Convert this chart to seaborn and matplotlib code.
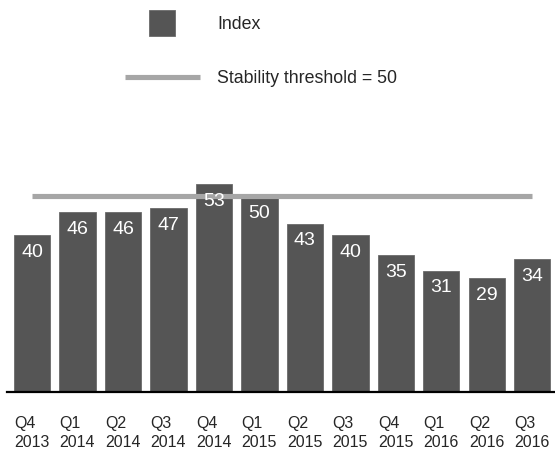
import matplotlib
matplotlib.use("Agg")
import matplotlib.pyplot as plt
from matplotlib.lines import Line2D
import seaborn as sns
import pandas as pd

quarters = ["Q4\n2013", "Q1\n2014", "Q2\n2014", "Q3\n2014", "Q4\n2014", "Q1\n2015",
            "Q2\n2015", "Q3\n2015", "Q4\n2015", "Q1\n2016", "Q2\n2016", "Q3\n2016"]
index_values = [40, 46, 46, 47, 53, 50, 43, 40, 35, 31, 29, 34]
threshold = 50

BAR = "#555555"
LINE = "#a6a6a6"

sns.set_theme(style="white")
plt.rcParams["font.family"] = ["Liberation Sans", "DejaVu Sans"]

W, H = 555, 453
fig = plt.figure(figsize=(W / 100, H / 100), dpi=100)
# axes placed in pixel terms: baseline at y=392, spanning x 7..555
ax_left, ax_right = 7, 555
base_y, top_y = 392, 157
ax = fig.add_axes([ax_left / W, (H - base_y) / H, (ax_right - ax_left) / W, (base_y - top_y) / H])

df = pd.DataFrame({"quarter": quarters, "index": index_values})
sns.barplot(data=df, x="quarter", y="index", color=BAR, saturation=1, width=0.8,
            edgecolor="#6a6a6a", linewidth=0.6, ax=ax, zorder=2)

ax.plot([0, len(quarters) - 1], [threshold, threshold], color=LINE, lw=3.7,
        solid_capstyle="butt", zorder=3)

for i, v in enumerate(index_values):
    ax.annotate(str(v), (i, v), xytext=(0, -12.5), textcoords="offset points",
                ha="center", va="center", color="white", fontsize=14, zorder=4)

ax.set_xlim(-0.55, len(quarters) - 0.5)
ax.set_ylim(0, 60)
ax.set_xlabel("")
ax.set_ylabel("")
ax.set_yticks([])
for s in ["top", "right", "left"]:
    ax.spines[s].set_visible(False)
ax.spines["bottom"].set_color("black")
ax.spines["bottom"].set_linewidth(1.6)
ax.tick_params(axis="x", length=0, pad=17, labelsize=11.5)
for t in ax.get_xticklabels():
    t.set_multialignment("left")
    t.set_linespacing(1.35)

handles = [
    Line2D([], [], marker="s", markersize=19, color=BAR, linestyle="none",
           markeredgecolor="#6a6a6a", markeredgewidth=0.6),
    Line2D([], [], color=LINE, lw=3.7, solid_capstyle="butt"),
]
fig.legend(handles, ["Index", "Stability threshold = 50"],
           loc="upper left", bbox_to_anchor=(125 / W, 1 - 16 / H),
           frameon=False, fontsize=12.8, handlelength=4.2, handletextpad=1.0,
           labelspacing=2.1, borderpad=0, borderaxespad=0)

fig.savefig("out.png", dpi=100)
